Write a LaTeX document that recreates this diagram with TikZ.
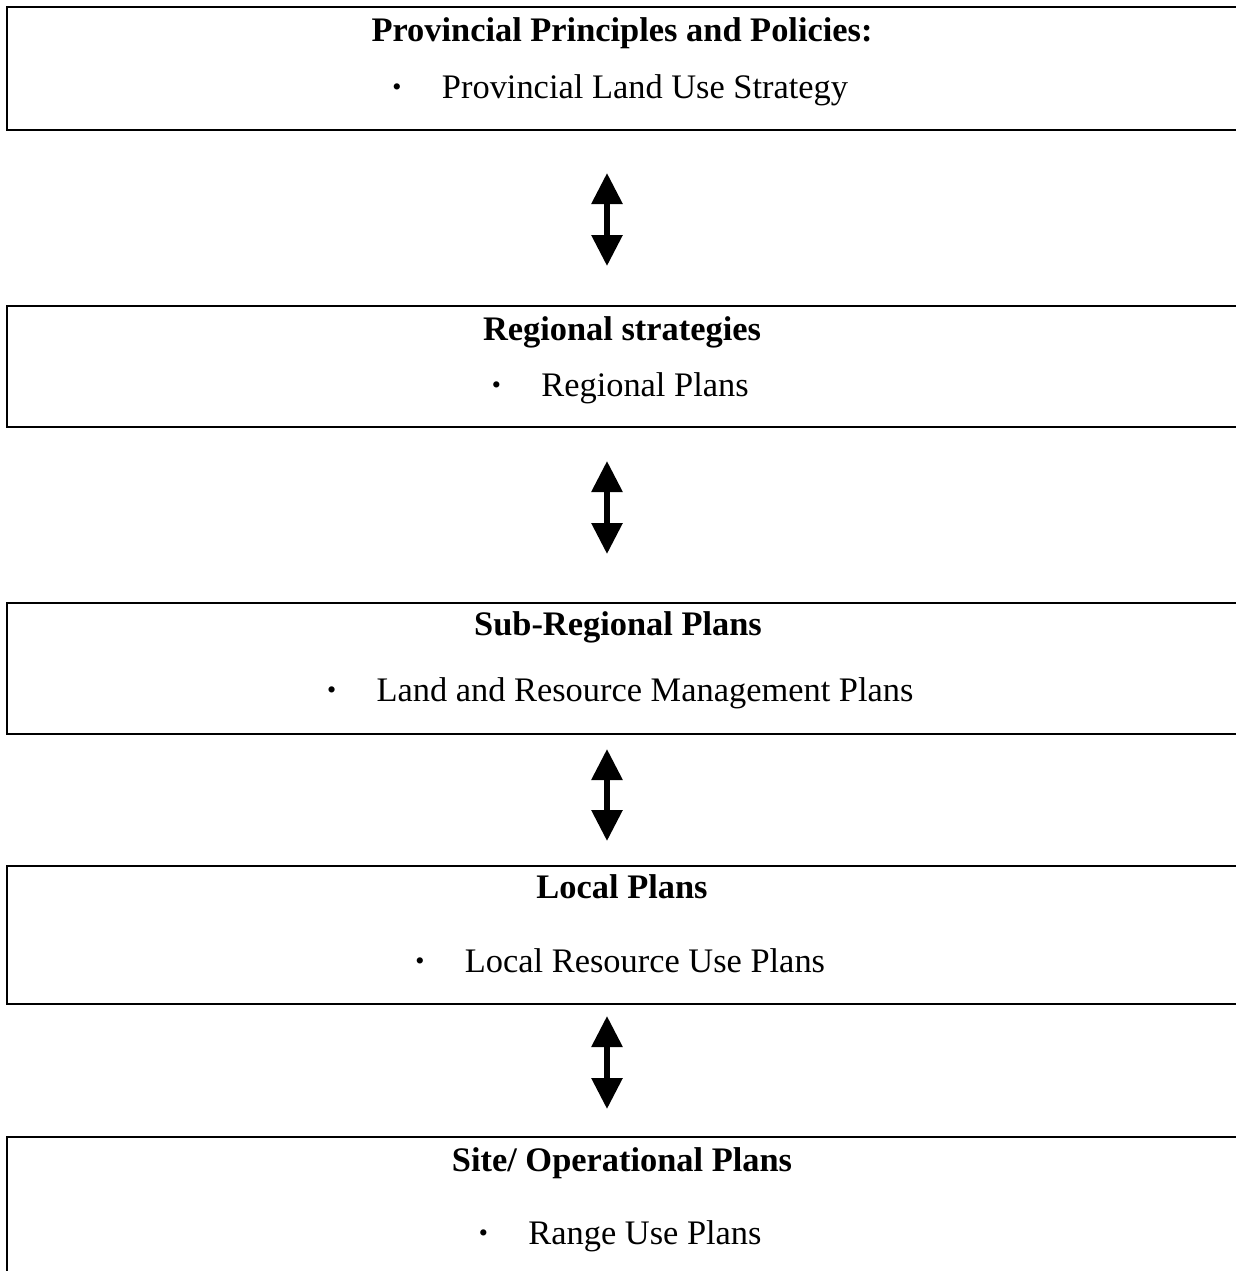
\documentclass[tikz,border=0pt]{standalone}
\usepackage{fontspec}
\setmainfont{Liberation Serif}
\usetikzlibrary{positioning,arrows.meta}

\newcommand{\bul}{\llap{\makebox[0pt]{\raisebox{1.5pt}{\fontsize{13}{13}\selectfont •}}\hspace{22.5pt}}}

\begin{document}
\begin{tikzpicture}[x=0.5pt,y=-0.5pt,
    planbox/.style={draw,line width=1pt,minimum width=615pt,inner sep=0pt},
    headtxt/.style={anchor=base,inner sep=0pt,font=\fontsize{17.2}{20}\selectfont\bfseries},
    itemtxt/.style={anchor=base,inner sep=0pt,font=\fontsize{17.2}{20}\selectfont},
    link/.style={line width=3pt,{Triangle[length=15.5pt,width=15pt]}-{Triangle[length=15.5pt,width=15pt]}}]
    \useasboundingbox (0,0) rectangle (1236,1271);

    \node[planbox,minimum height=61.5pt] (prov) at (622,68.5) {};
    \node[planbox,minimum height=60.5pt] (reg) at (622,366.5) {};
    \node[planbox,minimum height=65.5pt] (sub) at (622,668.5) {};
    \node[planbox,minimum height=69pt] (loc) at (622,935) {};
    \node[planbox,minimum height=90pt] (site) at (622,1227) {};

    \node[headtxt] (provhead) at (622,41) {Provincial Principles and Policies:};
    \node[itemtxt] (provitem) at (645,98) {\bul Provincial Land Use Strategy};

    \node[headtxt] (reghead) at (622,340) {Regional strategies};
    \node[itemtxt] (regitem) at (645,396) {\bul Regional Plans};

    \node[headtxt] (subhead) at (618,635) {Sub-Regional Plans};
    \node[itemtxt] (subitem) at (645,701) {\bul Land and Resource Management Plans};

    \node[headtxt] (lochead) at (622,898) {Local Plans};
    \node[itemtxt] (locitem) at (645,972) {\bul Local Resource Use Plans};

    \node[headtxt] (sitehead) at (622,1171) {Site/ Operational Plans};
    \node[itemtxt] (siteitem) at (645,1244) {\bul Range Use Plans};

    \coordinate (ax) at (607,0);
    \draw[link,shorten <=21pt,shorten >=19.5pt] (prov.south -| ax) -- (reg.north -| ax);
    \draw[link,shorten <=16.5pt,shorten >=24pt] (reg.south -| ax) -- (sub.north -| ax);
    \draw[link,shorten <=7pt,shorten >=12pt] (sub.south -| ax) -- (loc.north -| ax);
    \draw[link,shorten <=5.5pt,shorten >=13.5pt] (loc.south -| ax) -- (site.north -| ax);
\end{tikzpicture}
\end{document}
